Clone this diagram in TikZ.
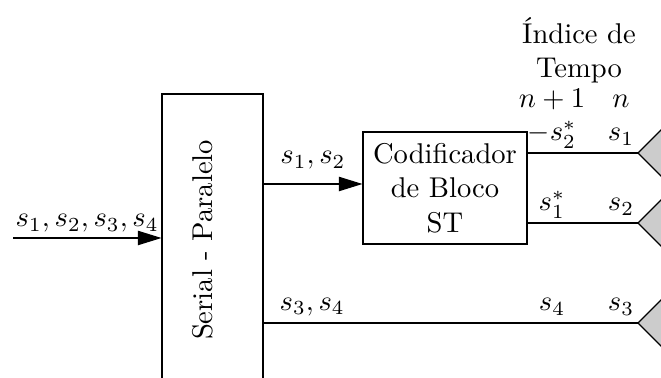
\documentclass[tikz,border=0pt]{standalone}
\usepackage{tikz}
\usetikzlibrary{arrows.meta,calc}
\tikzstyle{blockbox}=[draw, inner sep=0pt, align=center]
\tikzstyle{antenna}=[fill=gray!40, draw]
\tikzstyle{sigarrow}=[-{Triangle[length=8.2pt,width=5pt]}]
\tikzstyle{lbl}=[anchor=base, yshift=4.2pt]
\begin{document}
\begin{tikzpicture}[x=0.0123cm, y=-0.0123cm]
	\useasboundingbox (0,0) rectangle (661,378);
	% blocos
	\node[blockbox, minimum width=1.242cm, minimum height=3.59cm] (ser) at (212.5,240) {};
	\node[rotate=90] (serlbl) at (203,240) {Serial - Paralelo};
	\node[blockbox, minimum width=2.017cm, minimum height=1.378cm] (enc) at (445,188) {Codificador\\de Bloco\\ST};
	% antenas
	\foreach \nm/\yy in {ant1/153, ant2/223, ant3/323}{
		\coordinate (\nm) at (638,\yy);
		\filldraw[antenna] (\nm) -- ++(25,-25) -- ++(0,50) -- cycle;
	}
	% indice de tempo
	\coordinate (colA) at (552,108);
	\coordinate (colB) at (621,108);
	\node[align=center] (hdr) at (579,50) {Índice de\\Tempo};
	\node[anchor=base] (tA) at (colA) {$n+1$};
	\node[anchor=base] (tB) at (colB) {$n$};
	% sinais
	\coordinate (in) at (13,238);
	\draw[sigarrow] (in) -- node[lbl, yshift=-.3pt] {$s_1, s_2, s_3, s_4$} (in -| ser.west);
	\draw[sigarrow] (ser.east |- 0,184) -- node[lbl, yshift=2.8pt] {$s_1, s_2$} (enc.west |- 0,184);
	\draw (ser.east |- ant3) -- node[pos=.13, lbl, yshift=.3pt] {$s_3, s_4$} (ant3);
	\draw (enc.east |- ant1) -- (ant1);
	\draw (enc.east |- ant2) -- (ant2);
	\node[lbl] (a1n1) at (colA |- ant1) {$-s_2^*$};
	\node[lbl] (a1n) at (colB |- ant1) {$s_1$};
	\node[lbl] (a2n1) at (colA |- ant2) {$s_1^*$};
	\node[lbl] (a2n) at (colB |- ant2) {$s_2$};
	\node[lbl] (a3n1) at (colA |- ant3) {$s_4$};
	\node[lbl] (a3n) at (colB |- ant3) {$s_3$};
\end{tikzpicture}
\end{document}
